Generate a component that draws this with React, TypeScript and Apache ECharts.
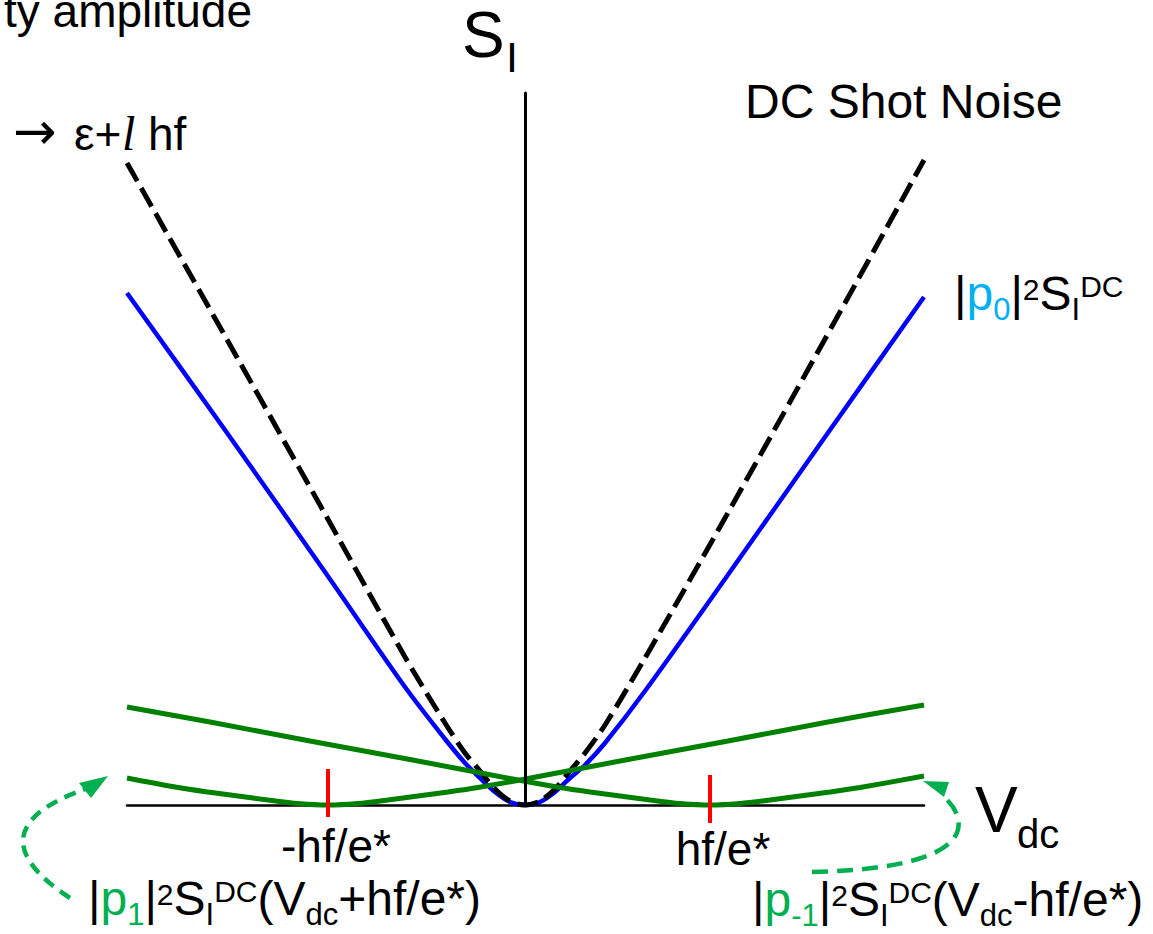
import React, { useEffect, useRef } from 'react';
import * as echarts from 'echarts';

// ---------- data (x: offset from the S_I axis, y: height above the V_dc axis) ----------
const shotX = [-398, -300, -200, -120, -80, -60, -45, -30, -15, 0, 15, 30, 45, 60, 80, 120, 200, 300, 399];
const shotY = [642, 469, 291, 148, 82, 52, 34, 16, 4, 0, 4, 16, 34, 52, 80, 147, 287, 466, 645];
const p0X = [-398, -300, -200, -120, -80, -60, -45, -30, -15, 0, 15, 30, 45, 60, 80, 120, 200, 300, 399];
const p0Y = [512, 375, 233, 118, 66, 42, 27, 13, 3, 0, 3, 13, 27, 40, 62, 114, 226, 368, 508];
const p1X = [-398, -347, -317, -287, -257, -227, -197, -167, -137, -107, -77, -47, 3, 103, 203, 303, 399];
const p1Y = [27, 17.5, 13, 9, 5, 1.5, 0, 1.5, 5, 9, 13, 17.5, 26.5, 45.5, 64, 83, 100];
const pm1X = [-398, -315, -215, -115, -15, 35, 65, 95, 125, 155, 185, 215, 245, 275, 305, 335, 399];
const pm1Y = [98, 83, 64, 45.5, 26.5, 17.5, 13, 9, 5, 1.5, 0, 1.5, 5, 9, 13, 17.5, 29];
const tickValues = [-197, 185];
const tickLabels = ['-hf/e*', 'hf/e*'];
const tickMarkTop = [36, 30];
const tickMarkBottom = [-12, -18];

const X_MIN = -398;
const X_MAX = 399;
const Y_MIN = 0;
const Y_MAX = 712;

const SANS = "'Liberation Sans', Arial, sans-serif";
const SERIF = "'Liberation Serif', 'Times New Roman', serif";
const DEJAVU = "'DejaVu Sans', sans-serif";
const GREEN_TXT = '#00B050';
const BLUE_TXT = '#00B0F0';

type Piece = { t: string; size: number; dy?: number; color?: string; family?: string; fstyle?: string; at?: number };

let measureCtx: CanvasRenderingContext2D | null = null;
function measure(t: string, size: number, family: string, fstyle: string) {
  if (!measureCtx) measureCtx = document.createElement('canvas').getContext('2d');
  measureCtx!.font = `${fstyle} ${size}px ${family}`;
  return measureCtx!.measureText(t).width;
}

function chain(x0: number, baseline: number, pieces: Piece[]) {
  let x = x0;
  const out: any[] = [];
  for (const p of pieces) {
    const fam = p.family || SANS;
    const fs = p.fstyle || 'normal';
    if (p.at !== undefined) x = p.at;
    const by = baseline + (p.dy || 0);
    out.push({
      type: 'text',
      x,
      y: by - 0.35 * p.size,
      silent: true,
      z: 20,
      style: {
        text: p.t,
        fontSize: p.size,
        fontFamily: fam,
        fontStyle: fs,
        fill: p.color || '#000',
        align: 'left',
        verticalAlign: 'middle',
      },
    });
    x += measure(p.t, p.size, fam, fs);
  }
  return out;
}

const M = 48;
const SB = 31;
const SP2 = 30;
const SPDC = 30;

function label(x0: number, baseline: number, sub: string, subColor: string, tail: Piece[]) {
  return chain(x0, baseline, [
    { t: '|', size: M },
    { t: 'p', size: M, color: subColor },
    { t: sub, size: SB, dy: 10, color: subColor },
    { t: '|', size: M },
    { t: '2', size: SP2, dy: -10 },
    { t: 'S', size: M },
    { t: 'I', size: SB, dy: 10 },
    { t: 'DC', size: SPDC, dy: -13 },
    ...tail,
  ]);
}

const zip = (xs: number[], ys: number[]) => xs.map((x, i) => [x, ys[i]]);

function curve(name: string, xs: number[], ys: number[], color: string, width: number, type: any, z: number) {
  return {
    type: 'line',
    name,
    data: zip(xs, ys),
    showSymbol: false,
    symbol: 'none',
    smooth: 0.3,
    clip: false,
    silent: true,
    z,
    lineStyle: { color, width, type, cap: 'butt' },
  };
}

export default function App() {
  const ref = useRef<HTMLDivElement>(null);

  useEffect(() => {
    if (!ref.current) return;
    const chart = echarts.init(ref.current, undefined, { renderer: 'svg' });

    const ampWidth = measure('ty amplitude', 46, SANS, 'normal');

    const graphics: any[] = [
      ...chain(252 - ampWidth, 27, [{ t: 'ty amplitude', size: 46 }]),
      ...chain(13, 150, [
        { t: '→', size: 52, family: DEJAVU, dy: -1 },
        { t: 'ε+', size: 46, at: 74 },
        { t: 'l', size: 48, family: SERIF, fstyle: 'italic', at: 122 },
        { t: 'hf', size: 46, at: 148 },
      ]),
      ...chain(462, 57, [{ t: 'S', size: 64 }]),
      ...chain(506, 72, [{ t: 'I', size: 43 }]),
      ...chain(745, 118, [{ t: 'DC Shot Noise', size: 48 }]),
      ...label(954, 310, '0', BLUE_TXT, []),
      ...label(88, 915, '1', GREEN_TXT, [
        { t: '(', size: M },
        { t: 'V', size: M },
        { t: 'dc', size: SB, dy: 10 },
        { t: '+hf/e*)', size: M },
      ]),
      ...label(752, 916, '-1', GREEN_TXT, [
        { t: '(', size: M },
        { t: 'V', size: M },
        { t: 'dc', size: SB, dy: 10 },
        { t: '-hf/e*)', size: M },
      ]),
      ...chain(975, 832, [{ t: 'V', size: 64 }]),
      ...chain(1017, 848, [{ t: 'dc', size: 40 }]),
      // left curved arrow
      {
        type: 'bezierCurve',
        silent: true,
        z: 20,
        shape: { x1: 70, y1: 898, cpx1: 0, cpy1: 852, cpx2: 10, cpy2: 815, x2: 88, y2: 788 },
        style: { stroke: GREEN_TXT, lineWidth: 4.5, lineDash: [12, 8], fill: null },
      },
      {
        type: 'polygon',
        silent: true,
        z: 20,
        shape: { points: [[108, 776], [79, 783], [91, 798]] },
        style: { fill: GREEN_TXT },
      },
      // right curved arrow
      {
        type: 'bezierCurve',
        silent: true,
        z: 20,
        shape: { x1: 812, y1: 872, cpx1: 990, cpy1: 868, cpx2: 965, cpy2: 815, x2: 944, y2: 797 },
        style: { stroke: GREEN_TXT, lineWidth: 4.5, lineDash: [16, 9], fill: null },
      },
      {
        type: 'polygon',
        silent: true,
        z: 20,
        shape: { points: [[923, 781], [949, 782], [944, 797]] },
        style: { fill: GREEN_TXT },
      },
    ];

    const redMarks = tickValues.map((v, i) => ({
      type: 'line',
      data: [[v, tickMarkBottom[i]], [v, tickMarkTop[i]]],
      showSymbol: false,
      symbol: 'none',
      clip: false,
      silent: true,
      z: 6,
      lineStyle: { color: '#FF0000', width: 4, cap: 'butt' },
    }));

    const tickLabelSeries = {
      type: 'scatter',
      symbolSize: 0,
      silent: true,
      clip: false,
      z: 7,
      itemStyle: { opacity: 1, color: '#000' },
      label: { color: '#000', opacity: 1 },
      data: tickValues.map((v, i) => ({
        value: [v, 0],
        label: {
          show: true,
          position: 'bottom',
          distance: i === 0 ? 18 : 21,
          offset: [i === 0 ? 8 : 13, 0],
          formatter: tickLabels[i],
          color: '#000',
          opacity: 1,
          fontSize: 46,
          fontFamily: SANS,
        },
      })),
    };

    chart.setOption({
      animation: false,
      grid: {
        left: 127,
        right: 1153 - 924,
        top: 93,
        bottom: 934 - 805,
        containLabel: false,
        outerBoundsMode: 'none',
      },
      xAxis: {
        type: 'value',
        min: X_MIN,
        max: X_MAX,
        splitLine: { show: false },
        axisTick: { show: false },
        axisLabel: { show: false },
        axisLine: { show: true, onZero: true, lineStyle: { color: '#000', width: 2.5 } },
      },
      yAxis: {
        type: 'value',
        min: Y_MIN,
        max: Y_MAX,
        z: 10,
        splitLine: { show: false },
        axisTick: { show: false },
        axisLabel: { show: false },
        axisLine: { show: true, onZero: true, lineStyle: { color: '#000', width: 3 } },
      },
      series: [
        curve('|p0|²S_I^DC', p0X, p0Y, '#0000FF', 4.5, 'solid', 3),
        curve('DC Shot Noise', shotX, shotY, '#000000', 5, [21, 8], 4),
        curve('|p1|²S_I^DC(Vdc+hf/e*)', p1X, p1Y, '#008000', 5, 'solid', 5),
        curve('|p-1|²S_I^DC(Vdc-hf/e*)', pm1X, pm1Y, '#008000', 5, 'solid', 5),
        ...redMarks,
        tickLabelSeries,
      ],
      graphic: graphics,
    });

    return () => chart.dispose();
  }, []);

  return (
    <div
      ref={ref}
      style={{ position: 'absolute', left: 0, top: 0, width: 1153, height: 934, background: '#fff' }}
    />
  );
}
